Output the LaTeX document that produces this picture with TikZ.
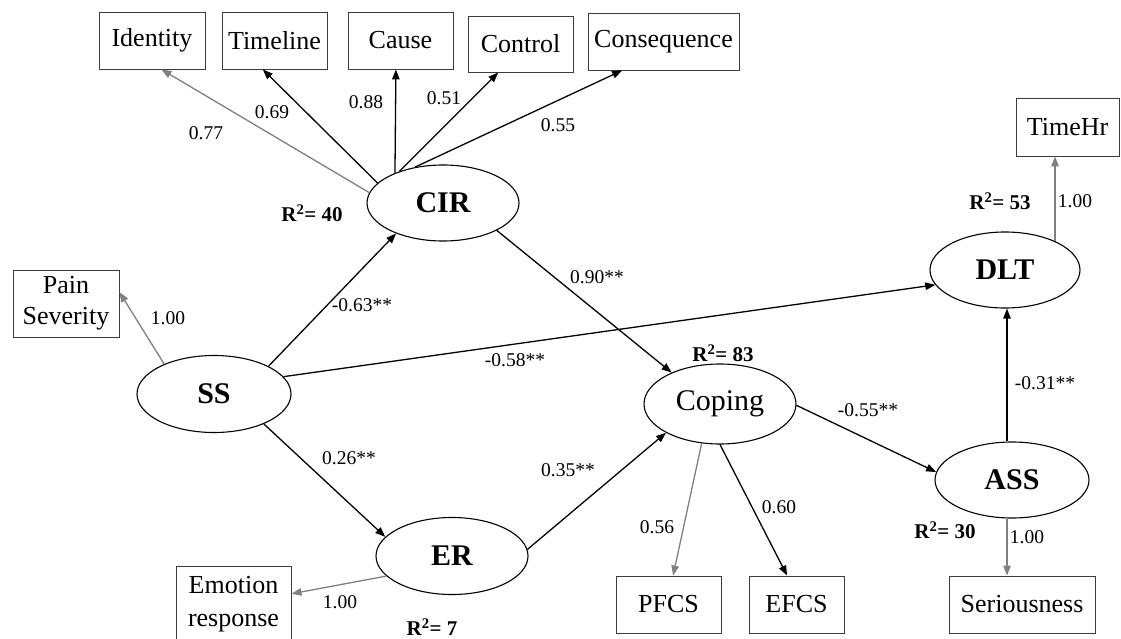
\documentclass[tikz,border=0pt]{standalone}
\usepackage{fontspec}
\setmainfont{Liberation Serif}
\usetikzlibrary{arrows.meta,shapes.geometric,calc}
\definecolor{loadgray}{RGB}{128,128,128}
\definecolor{boxline}{RGB}{60,60,60}

\begin{document}
\begin{tikzpicture}[x=1pt,y=-1pt,
  obs/.style={draw=boxline, line width=0.9pt, rectangle, inner sep=0pt,
    font=\fontsize{26}{32}\selectfont, align=center},
  lat/.style={draw, line width=1.1pt, ellipse, inner sep=0pt,
    font=\fontsize{30}{34}\selectfont\bfseries},
  latreg/.style={lat, font=\fontsize{30}{34}\selectfont},
  effect/.style={draw=black, line width=1.3pt, -{Triangle[length=10pt,width=7.5pt]}},
  loading/.style={draw=loadgray, line width=1.3pt, -{Triangle[length=10pt,width=7.5pt]}},
  coef/.style={inner sep=0pt, font=\fontsize{19.5}{22}\selectfont},
  rsq/.style={inner sep=0pt, font=\fontsize{21}{24}\selectfont\bfseries},
]
\useasboundingbox (0,0) rectangle (1121,639);
\fill[white] (0,0) rectangle (1121,639);

% observed indicators
\node[obs, minimum width=106pt, minimum height=57pt] (Identity) at (152,40.5) {Identity};
\node[obs, minimum width=105pt, minimum height=57pt] (Timeline) at (274.5,40.5) {Timeline};
\node[obs, minimum width=105pt, minimum height=57pt] (Cause) at (400.5,40.5) {Cause};
\node[obs, minimum width=105pt, minimum height=56pt] (Control) at (520.5,44) {Control};
\node[obs, minimum width=151pt, minimum height=57pt] (Consequence) at (663.5,41.5) {Consequence};
\node[obs, minimum width=103pt, minimum height=58pt] (TimeHr) at (1067.5,127) {TimeHr};
\node[obs, minimum width=106pt, minimum height=67pt, font=\fontsize{26}{31}\selectfont] (Pain) at (66,303.5) {Pain\\Severity};
\node[obs, minimum width=115pt, minimum height=76pt, font=\fontsize{26}{33}\selectfont] (Emotion) at (233.5,604) {Emotion\\response};
\node[obs, minimum width=105pt, minimum height=57pt] (PFCS) at (668.5,604.5) {PFCS};
\node[obs, minimum width=95pt, minimum height=57pt] (EFCS) at (796.5,604.5) {EFCS};
\node[obs, minimum width=146pt, minimum height=57pt] (Seriousness) at (1022,604.5) {Seriousness};

% latent variables
\node[lat, minimum width=152pt, minimum height=76pt] (CIR) at (443,203) {CIR};
\node[lat, minimum width=154pt, minimum height=77pt] (SS) at (214,394) {SS};
\node[lat, minimum width=152pt, minimum height=77pt] (ER) at (452,556) {ER};
\node[latreg, minimum width=152pt, minimum height=80pt] (Coping) at (720,404) {Coping};
\node[lat, minimum width=150pt, minimum height=76pt] (DLT) at (1005,270) {DLT};
\node[lat, minimum width=154pt, minimum height=76pt] (ASS) at (1012,480) {ASS};
\coordinate (axis) at (1007,0);

% measurement paths
\draw[loading] (CIR.172) -- (Identity.-72);
\draw[effect] (CIR.163) -- (Timeline.-112);
\draw[effect] (CIR.148) -- (Cause.-99);
\draw[effect] (CIR.144) -- (Control.-128);
\draw[effect] (CIR.128) -- (Consequence.-145);
\draw[loading] (SS.149) -- (Pain.12);
\draw[loading] (ER.197) -- (Emotion.10);
\draw[loading] (Coping.245) -- (PFCS.81);
\draw[effect] (Coping.270) -- (EFCS.108);
\draw[loading] (ASS.south -| axis) -- (Seriousness.north -| axis);
\draw[loading] (DLT.30) -- (TimeHr.south -| DLT.30);

% structural paths
\draw[effect] (SS.27) -- (CIR.213);
\draw[effect] (SS.14) -- (DLT.192);
\draw[effect] (SS.-31) -- (ER.164);
\draw[effect] (CIR.-27) -- (Coping.147);
\draw[effect] (ER.5) -- (Coping.208);
\draw[effect] (Coping.-1) -- (ASS.174);
\draw[effect] (ASS.north -| axis) -- (DLT.south -| axis);

% coefficients
\node[coef] (c1) at (206,133) {0.77};
\node[coef] (c2) at (272,112) {0.69};
\node[coef] (c3) at (366,102) {0.88};
\node[coef] (c4) at (444,98) {0.51};
\node[coef] (c5) at (558,125) {0.55};
\node[coef] (c6) at (168,318) {1.00};
\node[coef] (c7) at (362,305) {-0.63**};
\node[coef] (c8) at (515,360) {-0.58**};
\node[coef] (c9) at (597,277) {0.90**};
\node[coef] (c10) at (349,458) {0.26**};
\node[coef] (c11) at (568,470) {0.35**};
\node[coef] (c12) at (657,527) {0.56};
\node[coef] (c13) at (779,507) {0.60};
\node[coef] (c14) at (868,410) {-0.55**};
\node[coef] (c15) at (1045,383) {-0.31**};
\node[coef] (c16) at (1075,201) {1.00};
\node[coef] (c17) at (1027,537) {1.00};
\node[coef] (c18) at (340,602) {1.00};

% explained variance
\node[rsq] (r1) at (312,213) {R\textsuperscript{2}= 40};
\node[rsq] (r2) at (723,353) {R\textsuperscript{2}= 83};
\node[rsq] (r3) at (1000,201) {R\textsuperscript{2}= 53};
\node[rsq] (r4) at (945,530) {R\textsuperscript{2}= 30};
\node[rsq] (r5) at (432,627) {R\textsuperscript{2}= 7};
\end{tikzpicture}
\end{document}
